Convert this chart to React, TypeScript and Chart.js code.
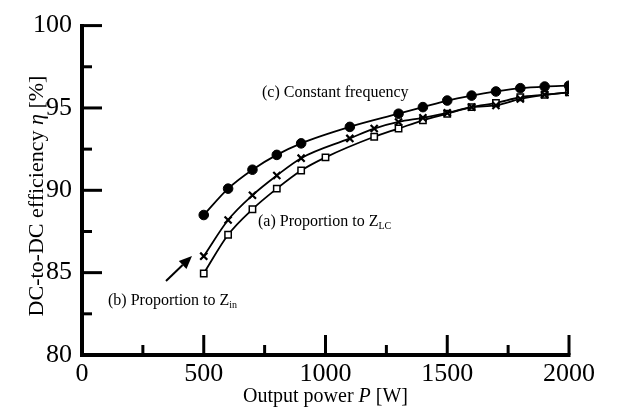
import React, { useEffect, useRef } from "react";
import { Chart, registerables } from "chart.js";

Chart.register(...registerables);

// (c) Constant frequency — filled circles
const powerC = [500, 600, 700, 800, 900, 1100, 1300, 1400, 1500, 1600, 1700, 1800, 1900, 2000];
const effC = [88.5, 90.1, 91.25, 92.15, 92.85, 93.85, 94.65, 95.05, 95.45, 95.75, 96.0, 96.2, 96.3, 96.35];

// (b) Proportion to Z_in — crosses
const powerB = [500, 600, 700, 800, 900, 1100, 1200, 1300, 1400, 1500, 1600, 1700, 1800, 1900, 2000];
const effB = [86.0, 88.2, 89.7, 90.9, 91.95, 93.15, 93.75, 94.15, 94.4, 94.7, 95.05, 95.15, 95.55, 95.8, 95.95];

// (a) Proportion to Z_LC — open squares
const powerA = [500, 600, 700, 800, 900, 1000, 1200, 1300, 1400, 1500, 1600, 1700, 1800, 1900, 2000];
const effA = [84.95, 87.3, 88.85, 90.1, 91.2, 92.0, 93.25, 93.75, 94.25, 94.65, 95.05, 95.3, 95.65, 95.8, 95.95];

const xMin = 0;
const xMax = 2000;
const xStep = 250;
const xMajor = 500;
const yMin = 80;
const yMax = 100;
const yStep = 2.5;
const yMajor = 5;

const FONT = "'Liberation Serif', 'Times New Roman', serif";

const toPts = (xs: number[], ys: number[]) => xs.map((x, i) => ({ x, y: ys[i] }));

function drawRich(ctx: CanvasRenderingContext2D, parts: { t: string; f: string; dy?: number }[], x: number, y: number, align: "left" | "center") {
  let total = 0;
  const widths = parts.map((p) => {
    ctx.font = p.f;
    const w = ctx.measureText(p.t).width;
    total += w;
    return w;
  });
  let cx = align === "center" ? x - total / 2 : x;
  parts.forEach((p, i) => {
    ctx.font = p.f;
    ctx.fillText(p.t, cx, y + (p.dy || 0));
    cx += widths[i];
  });
}

const customPlugin = {
  id: "customAxes",
  afterDraw(chart: any) {
    const { ctx, chartArea, scales } = chart;
    const { left, right, top, bottom } = chartArea;
    const xs = scales.x;
    const ys = scales.y;
    ctx.save();
    ctx.strokeStyle = "#000";
    ctx.fillStyle = "#000";
    ctx.lineCap = "butt";
    ctx.lineWidth = 3;
    xs.ticks.forEach((t: any) => {
      if (t.value === xMin) return;
      const px = xs.getPixelForValue(t.value);
      const len = t.value % xMajor === 0 ? 20 : 10;
      ctx.beginPath();
      ctx.moveTo(px, bottom);
      ctx.lineTo(px, bottom - len);
      ctx.stroke();
    });
    ys.ticks.forEach((t: any) => {
      if (t.value === yMin) return;
      const py = ys.getPixelForValue(t.value);
      const len = Math.abs(t.value % yMajor) < 1e-9 ? 20 : 10;
      ctx.beginPath();
      ctx.moveTo(left, py);
      ctx.lineTo(left + len, py);
      ctx.stroke();
    });
    ctx.lineWidth = 4;
    ctx.beginPath();
    ctx.moveTo(left, top - 1.5);
    ctx.lineTo(left, bottom);
    ctx.lineTo(right + 1.5, bottom);
    ctx.stroke();

    // axis titles
    ctx.textBaseline = "middle";
    drawRich(
      ctx,
      [
        { t: "Output power ", f: `20px ${FONT}` },
        { t: "P", f: `italic 20px ${FONT}` },
        { t: " [W]", f: `20px ${FONT}` },
      ],
      (left + right) / 2,
      397,
      "center"
    );
    ctx.save();
    ctx.translate(37, 196);
    ctx.rotate(-Math.PI / 2);
    drawRich(
      ctx,
      [
        { t: "DC-to-DC efficiency ", f: `22px ${FONT}` },
        { t: "η", f: `italic 22px ${FONT}` },
        { t: " [%]", f: `22px ${FONT}` },
      ],
      0,
      0,
      "center"
    );
    ctx.restore();

    // annotations
    drawRich(ctx, [{ t: "(c) Constant frequency", f: `16px ${FONT}` }], 262, 93, "left");
    drawRich(
      ctx,
      [
        { t: "(a) Proportion to Z", f: `16px ${FONT}` },
        { t: "LC", f: `10px ${FONT}`, dy: 4 },
      ],
      258,
      222,
      "left"
    );
    drawRich(
      ctx,
      [
        { t: "(b) Proportion to Z", f: `16px ${FONT}` },
        { t: "in", f: `10px ${FONT}`, dy: 4 },
      ],
      108,
      301,
      "left"
    );

    // arrow
    const x0 = 166, y0 = 281, x1 = 192, y1 = 256;
    const ang = Math.atan2(y1 - y0, x1 - x0);
    const hl = 13, hw = 5.5;
    const bx = x1 - hl * Math.cos(ang);
    const by = y1 - hl * Math.sin(ang);
    ctx.lineWidth = 2;
    ctx.beginPath();
    ctx.moveTo(x0, y0);
    ctx.lineTo(bx, by);
    ctx.stroke();
    ctx.beginPath();
    ctx.moveTo(x1, y1);
    ctx.lineTo(bx + hw * Math.sin(ang), by - hw * Math.cos(ang));
    ctx.lineTo(bx - hw * Math.sin(ang), by + hw * Math.cos(ang));
    ctx.closePath();
    ctx.fill();
    ctx.restore();
  },
};

export default function App() {
  const ref = useRef<HTMLCanvasElement | null>(null);
  useEffect(() => {
    if (!ref.current) return;
    const common = {
      borderColor: "#000",
      borderWidth: 1.8,
      tension: 0.4,
      cubicInterpolationMode: "monotone" as const,
      pointBorderColor: "#000",
    };
    const chart = new Chart(ref.current, {
      type: "line",
      data: {
        datasets: [
          {
            ...common,
            label: "(c) Constant frequency",
            data: toPts(powerC, effC),
            pointStyle: "circle",
            pointRadius: 4.8,
            pointBackgroundColor: "#000",
            pointBorderWidth: 1,
          },
          {
            ...common,
            label: "(b) Proportion to Zin",
            data: toPts(powerB, effB),
            pointStyle: "crossRot",
            pointRadius: 5,
            pointBorderWidth: 2.2,
          },
          {
            ...common,
            label: "(a) Proportion to ZLC",
            data: toPts(powerA, effA),
            pointStyle: "rect",
            pointRadius: 4.5,
            pointBackgroundColor: "#fff",
            pointBorderWidth: 1.5,
          },
        ],
      },
      options: {
        responsive: false,
        animation: false,
        devicePixelRatio: 1,
        layout: { padding: { top: 18, right: 48, left: 0, bottom: 0 } },
        plugins: { legend: { display: false }, tooltip: { enabled: false } },
        scales: {
          x: {
            type: "linear",
            min: xMin,
            max: xMax,
            grid: { display: false, drawTicks: false },
            border: { display: false },
            ticks: {
              stepSize: xStep,
              autoSkip: false,
              maxRotation: 0,
              padding: 4,
              color: "#000",
              font: { family: FONT, size: 26 },
              callback: (v: any) => (Number(v) % xMajor === 0 ? String(v) : ""),
            },
            afterFit: (s: any) => {
              s.height = 55;
            },
          },
          y: {
            type: "linear",
            min: yMin,
            max: yMax,
            grid: { display: false, drawTicks: false },
            border: { display: false },
            ticks: {
              stepSize: yStep,
              autoSkip: false,
              padding: 10,
              color: "#000",
              font: { family: FONT, size: 26 },
              callback: (v: any) => (Math.abs(Number(v) % yMajor) < 1e-9 ? String(v) : ""),
            },
            afterFit: (s: any) => {
              s.width = 82;
            },
          },
        },
      },
      plugins: [customPlugin],
    });
    return () => chart.destroy();
  }, []);
  return (
    <div style={{ position: "fixed", left: 0, top: 0, width: 617, height: 410, background: "#fff" }}>
      <canvas ref={ref} width={617} height={410} />
    </div>
  );
}
